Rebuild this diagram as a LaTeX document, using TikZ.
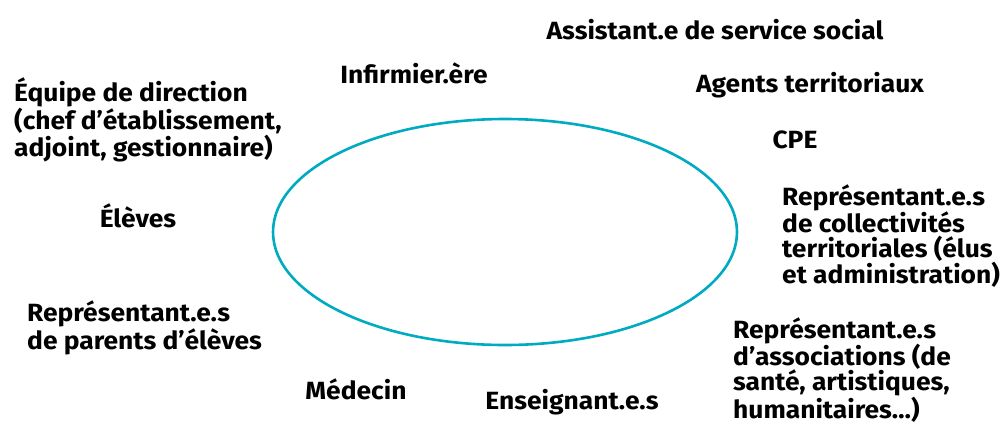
\documentclass[tikz,border=0pt]{standalone}
\usepackage{fontspec}
\setmainfont{Fira Sans}[FakeStretch=1.06]
\definecolor{teal}{RGB}{0,170,192}
\begin{document}
\begin{tikzpicture}[x=1bp,y=-1bp,
  lab/.style={font=\bfseries\fontsize{25}{25}\selectfont, inner sep=0pt, align=left}]
\useasboundingbox (0,0) rectangle (1001,424);
\draw[teal, line width=2.6bp] (505,232) ellipse [x radius=232, y radius=113];
\node[lab] (assist) at (715,30) {Assistant.e de service social};
\node[lab] (infirm) at (414,73) {Infirmier.ère};
\node[lab] (agents) at (810,85) {Agents territoriaux};
\node[lab, anchor=west] (equipe) at (14,120) {Équipe de direction\\(chef d’établissement,\\adjoint, gestionnaire)};
\node[lab] (cpe) at (795,140) {CPE};
\node[lab] (eleves) at (138,216) {Élèves};
\node[lab, anchor=west] (collect) at (782,236) {Représentant.e.s\\de collectivités\\territoriales (élus\\et administration)};
\node[lab, anchor=west] (parents) at (27,328) {Représentant.e.s\\de parents d’élèves};
\node[lab, anchor=west] (assoc) at (733,370) {Représentant.e.s\\d’associations (de\\santé, artistiques,\\humanitaires…)};
\node[lab] (medecin) at (356,389) {Médecin};
\node[lab] (enseign) at (572,402) {Enseignant.e.s};
\end{tikzpicture}
\end{document}
